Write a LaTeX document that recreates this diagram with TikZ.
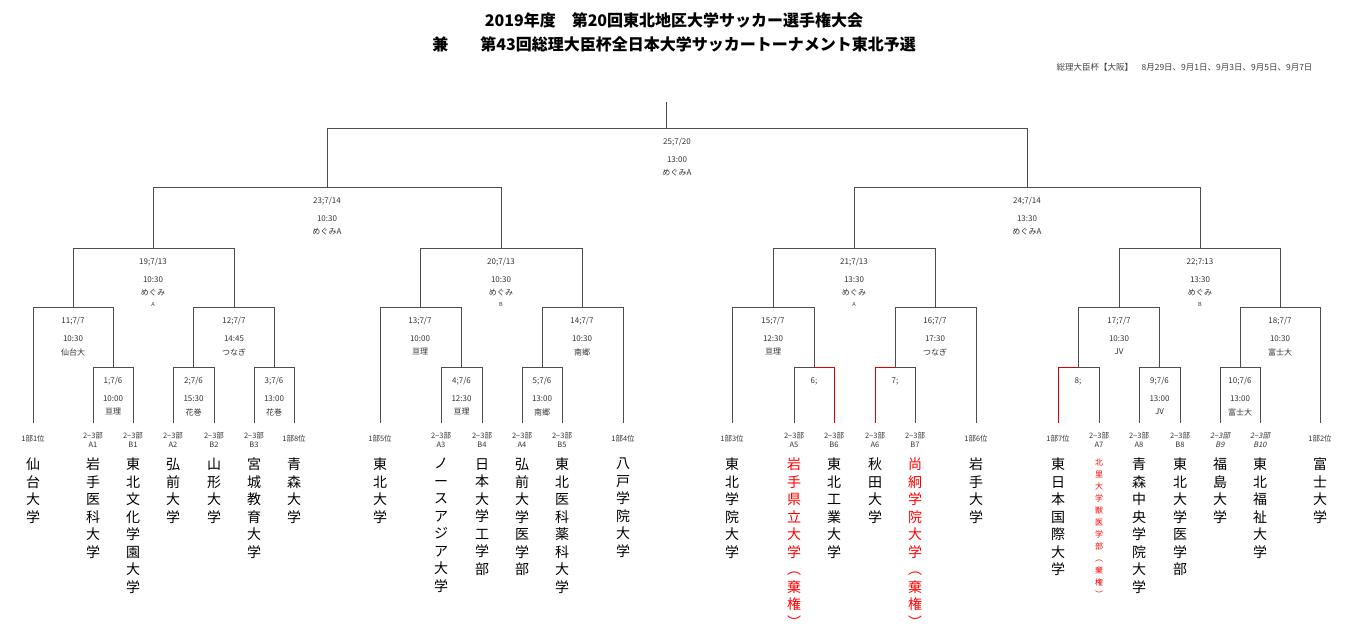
\documentclass[tikz,border=0pt]{standalone}
\usepackage{fontspec}
\setmainfont{Noto Sans CJK JP}
\newfontfamily\slfont[FakeSlant=0.2]{Noto Sans CJK JP}
\begin{document}
\begin{tikzpicture}[x=1pt,y=-1pt,
  ln/.style={draw=black!70,line width=0.8pt},
  rl/.style={draw=red!85!black,line width=0.8pt},
  ml/.style={font=\fontsize{8}{9}\selectfont,text=black!80,inner sep=0},
  lf/.style={font=\fontsize{7.5}{8.5}\selectfont,text=black!80,inner sep=0,align=center},
  nm/.style={font=\fontsize{14}{17.5}\selectfont,inner sep=0,anchor=north,align=center},
  rn/.style={nm,text=red}]
\useasboundingbox (0,0) rectangle (1348,639);
\node[font=\bfseries\fontsize{16}{18}\selectfont] (t1) at (674,20) {2019年度　第20回東北地区大学サッカー選手権大会};
\node[font=\bfseries\fontsize{16}{18}\selectfont] (t2) at (674,44) {兼　　第43回総理大臣杯全日本大学サッカートーナメント東北予選};
\node[anchor=east,font=\fontsize{8.5}{9}\selectfont,text=black!75] (t3) at (1316,67) {総理大臣杯【大阪】　8月29日、9月1日、9月3日、9月5日、9月7日};
\newcommand\mt[5]{\draw[ln] (#1,#4) |- (#2,#3) -- (#2,#5);}
\newcommand\lab[5]{\node[ml] at (#1,#2+14) {#3};\node[ml] at (#1,#2+32) {#4};\node[ml] at (#1,#2+45) {#5};}
% first round
\mt{93}{133}{367}{423}{423}\lab{113}{367}{1;7/6}{10:00}{亘理}
\mt{173}{214}{367}{423}{423}\lab{193.5}{367}{2;7/6}{15:30}{花巻}
\mt{254}{294}{367}{423}{423}\lab{274}{367}{3;7/6}{13:00}{花巻}
\mt{441}{482}{367}{423}{423}\lab{461.5}{367}{4;7/6}{12:30}{亘理}
\mt{522}{562}{367}{423}{423}\lab{542}{367}{5;7/6}{13:00}{南郷}
\draw[ln] (794,423) |- (814,367);\draw[rl] (814,367) -- (834,367) -- (834,423);\node[ml] at (814,381) {6;};
\draw[rl] (875,423) |- (895,367);\draw[ln] (895,367) -- (915,367) -- (915,423);\node[ml] at (895,381) {7;};
\draw[rl] (1058,423) |- (1078,367);\draw[ln] (1078,367) -- (1099,367) -- (1099,423);\node[ml] at (1078,381) {8;};
\mt{1139}{1180}{367}{423}{423}\lab{1159.5}{367}{9;7/6}{13:00}{JV}
\mt{1220}{1260}{367}{423}{423}\lab{1240}{367}{10;7/6}{13:00}{富士大}
% second round
\mt{33}{113}{307}{423}{367}\lab{73}{307}{11;7/7}{10:30}{仙台大}
\mt{193.5}{274}{307}{367}{367}\lab{234}{307}{12;7/7}{14:45}{つなぎ}
\mt{380}{461.5}{307}{423}{367}\lab{420}{307}{13;7/7}{10:00}{亘理}
\mt{542}{623}{307}{367}{423}\lab{582}{307}{14;7/7}{10:30}{南郷}
\mt{732}{814}{307}{423}{367}\lab{773}{307}{15;7/7}{12:30}{亘理}
\mt{895}{976}{307}{367}{423}\lab{935}{307}{16;7/7}{17:30}{つなぎ}
\mt{1078}{1159.5}{307}{367}{367}\lab{1119}{307}{17;7/7}{10:30}{JV}
\mt{1240}{1320}{307}{367}{423}\lab{1280}{307}{18;7/7}{10:30}{富士大}
% third
\mt{73}{234}{248}{307}{307}\lab{153}{248}{19;7/13}{10:30}{めぐみ}
\mt{420}{582}{248}{307}{307}\lab{501}{248}{20;7/13}{10:30}{めぐみ}
\mt{773}{935}{248}{307}{307}\lab{854}{248}{21;7/13}{13:30}{めぐみ}
\mt{1119}{1280}{248}{307}{307}\lab{1200}{248}{22;7:13}{13:30}{めぐみ}
\foreach \x/\t in {153/A,501/B,854/A,1200/B}{\node[ml,font=\fontsize{5.5}{5}\selectfont] at (\x,304) {\t};}
% fourth
\mt{153}{501}{187}{248}{248}\lab{327}{187}{23;7/14}{10:30}{めぐみA}
\mt{854}{1200}{187}{248}{248}\lab{1027}{187}{24;7/14}{13:30}{めぐみA}
% final
\mt{327}{1027}{128}{187}{187}\lab{677}{128}{25;7/20}{13:00}{めぐみA}
\draw[ln] (666,128) -- (666,102);
% leaf labels
\foreach \x/\t in {33/1部1位,294/1部8位,380/1部5位,623/1部4位,732/1部3位,976/1部6位,1058/1部7位,1320/1部2位}{\node[lf] at (\x,439) {\t};}
\foreach \x/\t in {93/A1,133/B1,173/A2,214/B2,254/B3,441/A3,482/B4,522/A4,562/B5,794/A5,834/B6,875/A6,915/B7,1099/A7,1139/A8,1180/B8}{\node[lf] at (\x,440) {2−3部\\\t};}
\foreach \x/\t in {1220/B9,1260/B10}{\node[lf,font=\slfont\fontsize{7.5}{8.5}\selectfont] at (\x,440) {2−3部\\\t};}
% names
\node[nm] (n1) at (33,458) {仙\\台\\大\\学};
\node[nm] (n2) at (93,458) {岩\\手\\医\\科\\大\\学};
\node[nm] (n3) at (133,458) {東\\北\\文\\化\\学\\園\\大\\学};
\node[nm] (n4) at (173,458) {弘\\前\\大\\学};
\node[nm] (n5) at (214,458) {山\\形\\大\\学};
\node[nm] (n6) at (254,458) {宮\\城\\教\\育\\大\\学};
\node[nm] (n7) at (294,458) {青\\森\\大\\学};
\node[nm] (n8) at (380,458) {東\\北\\大\\学};
\node[nm] (n9) at (441,458) {ノ\\ー\\ス\\ア\\ジ\\ア\\大\\学};
\node[nm] (n10) at (482,458) {日\\本\\大\\学\\工\\学\\部};
\node[nm] (n11) at (522,458) {弘\\前\\大\\学\\医\\学\\部};
\node[nm] (n12) at (562,458) {東\\北\\医\\科\\薬\\科\\大\\学};
\node[nm] (n13) at (623,458) {八\\戸\\学\\院\\大\\学};
\node[nm] (n14) at (732,458) {東\\北\\学\\院\\大\\学};
\node[rn] (n15) at (794,458) {岩\\手\\県\\立\\大\\学\\︵\\棄\\権\\︶};
\node[nm] (n16) at (834,458) {東\\北\\工\\業\\大\\学};
\node[nm] (n17) at (875,458) {秋\\田\\大\\学};
\node[rn] (n18) at (915,458) {尚\\絅\\学\\院\\大\\学\\︵\\棄\\権\\︶};
\node[nm] (n19) at (976,458) {岩\\手\\大\\学};
\node[nm] (n20) at (1058,458) {東\\日\\本\\国\\際\\大\\学};
\node[rn,font=\fontsize{8}{12}\selectfont] (n21) at (1099,459) {北\\里\\大\\学\\獣\\医\\学\\部\\︵\\棄\\権\\︶};
\node[nm] (n22) at (1139,458) {青\\森\\中\\央\\学\\院\\大\\学};
\node[nm] (n23) at (1180,458) {東\\北\\大\\学\\医\\学\\部};
\node[nm] (n24) at (1220,458) {福\\島\\大\\学};
\node[nm] (n25) at (1260,458) {東\\北\\福\\祉\\大\\学};
\node[nm] (n26) at (1320,458) {富\\士\\大\\学};
\end{tikzpicture}
\end{document}
